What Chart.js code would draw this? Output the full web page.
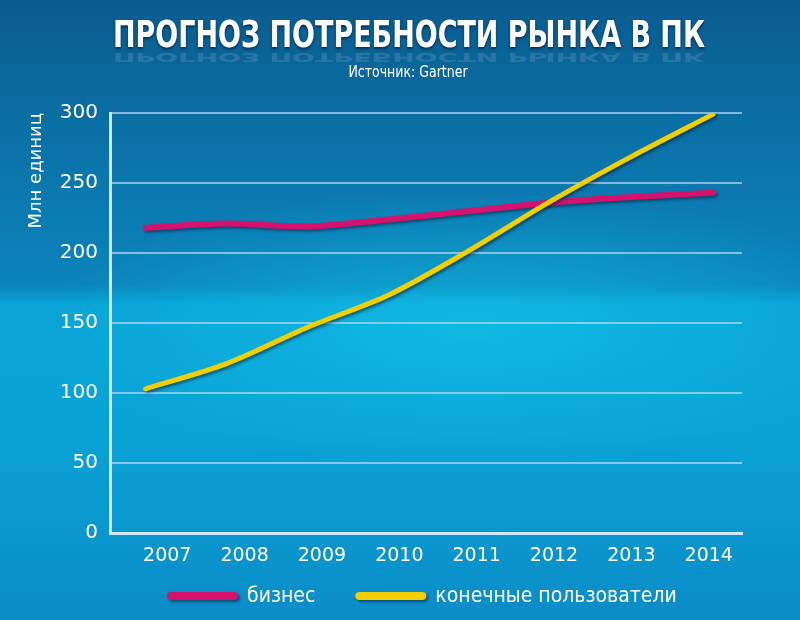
<!DOCTYPE html>
<html>
<head>
<meta charset="utf-8">
<script src="https://cdn.jsdelivr.net/npm/chart.js@4/dist/chart.umd.min.js"></script>
<style>
  html, body { margin: 0; padding: 0; }
  body {
    width: 800px; height: 620px; overflow: hidden;
    background:
      radial-gradient(ellipse 620px 200px at 470px 330px, rgba(20,200,235,0.55), rgba(20,200,235,0) 70%),
      linear-gradient(to bottom, #0a5b8f 0%, #0a74aa 25%, #0b84ba 46%, #09a4d6 49%, #0aa2d4 70%, #0b8cc6 100%);
  }
  #wrap { position: relative; width: 800px; height: 620px; }
</style>
</head>
<body>
<div id="wrap"><canvas id="chart" width="800" height="620"></canvas></div>
<script>
const years = [2007, 2008, 2009, 2010, 2011, 2012, 2013, 2014];
const business = [218, 221, 219, 224, 230, 236, 240, 243];
const consumers = [103, 121, 147, 170, 202, 237, 269, 299];
const seriesNames = ['бизнес', 'конечные пользователи'];
const yTicks = [0, 50, 100, 150, 200, 250, 300];
const titleText = 'ПРОГНОЗ ПОТРЕБНОСТИ РЫНКА В ПК';
const subtitleText = 'Источник: Gartner';

const pink = '#d5126d';
const yellow = '#f3cf00';
const axisCol = '#cfe6fb';
const gridCol = 'rgba(190, 225, 250, 0.65)';
const condensed = "'DejaVu Sans Condensed', 'DejaVu Sans', sans-serif";
const tickFont = "'DejaVu Sans', sans-serif";

// тень под линиями
const lineShadow = {
  id: 'lineShadow',
  beforeDatasetDraw(chart) {
    const ctx = chart.ctx;
    ctx.save();
    ctx.shadowColor = 'rgba(0, 30, 60, 0.55)';
    ctx.shadowBlur = 3;
    ctx.shadowOffsetX = 2;
    ctx.shadowOffsetY = 2;
  },
  afterDatasetDraw(chart) {
    chart.ctx.restore();
  }
};

// заголовок (сжатый по ширине) и легенда под графиком
const headerAndLegend = {
  id: 'headerAndLegend',
  afterDraw(chart) {
    const ctx = chart.ctx;
    ctx.save();
    ctx.font = 'bold 38px ' + condensed;
    ctx.textAlign = 'center';
    ctx.textBaseline = 'middle';
    const tw = ctx.measureText(titleText).width;
    const sx = 592 / tw;
    // отражение заголовка
    ctx.save();
    ctx.translate(409, 56);
    ctx.scale(sx, -0.3);
    ctx.globalAlpha = 0.12;
    ctx.fillStyle = '#ffffff';
    ctx.fillText(titleText, 0, 0);
    ctx.restore();
    // заголовок
    ctx.save();
    ctx.translate(409, 37);
    ctx.scale(sx, 1);
    ctx.shadowColor = 'rgba(0, 20, 50, 0.6)';
    ctx.shadowBlur = 3;
    ctx.shadowOffsetY = 2;
    ctx.fillStyle = '#ffffff';
    ctx.fillText(titleText, 0, 0);
    ctx.restore();
    // подзаголовок
    ctx.font = '15px ' + condensed;
    ctx.save();
    ctx.translate(408, 73);
    ctx.scale(0.93, 1);
    ctx.fillStyle = '#ffffff';
    ctx.fillText(subtitleText, 0, 0);
    ctx.restore();

    // легенда
    ctx.font = '21px ' + condensed;
    ctx.textAlign = 'left';
    let x = 167;
    const y = 597;
    chart.data.datasets.forEach((ds) => {
      ctx.save();
      ctx.shadowColor = 'rgba(0, 30, 60, 0.55)';
      ctx.shadowBlur = 3;
      ctx.shadowOffsetX = 2;
      ctx.shadowOffsetY = 2;
      ctx.strokeStyle = ds.borderColor;
      ctx.lineWidth = 8;
      ctx.lineCap = 'round';
      ctx.beginPath();
      ctx.moveTo(x + 4, y - 1);
      ctx.lineTo(x + 67, y - 1);
      ctx.stroke();
      ctx.restore();
      ctx.fillStyle = '#ffffff';
      ctx.fillText(ds.label, x + 80, y);
      x += 80 + ctx.measureText(ds.label).width + 40;
    });
    ctx.restore();
  }
};

const ctx = document.getElementById('chart').getContext('2d');
const myChart = new Chart(ctx, {
  type: 'line',
  data: {
    datasets: [
      {
        label: seriesNames[0],
        data: years.map((y, i) => ({ x: y, y: business[i] })),
        borderColor: pink,
        backgroundColor: pink,
        borderWidth: 6,
        borderCapStyle: 'round',
        tension: 0.3,
        pointRadius: 0,
        order: 1,
      },
      {
        label: seriesNames[1],
        data: years.map((y, i) => ({ x: y, y: consumers[i] })),
        borderColor: yellow,
        backgroundColor: yellow,
        borderWidth: 5,
        borderCapStyle: 'round',
        tension: 0.3,
        pointRadius: 0,
        order: 0,
      },
    ],
  },
  options: {
    responsive: false,
    animation: false,
    maintainAspectRatio: false,
    layout: { padding: { top: 113, left: 26, right: 58, bottom: 45 } },
    plugins: {
      legend: { display: false },
      tooltip: { enabled: false },
    },
    scales: {
      x: {
        type: 'linear',
        min: 2006.56,
        max: 2014.36,
        afterFit: (scale) => { scale.height = 0; },
        grid: { display: false, drawTicks: false },
        border: { display: true, color: axisCol, width: 3 },
        ticks: { display: false },
      },
      // подписи годов стоят на оригинале не строго под точками
      xLabels: {
        type: 'linear',
        position: 'bottom',
        min: 2006.26,
        max: 2014.43,
        afterBuildTicks: (scale) => { scale.ticks = years.map(v => ({ value: v })); },
        afterFit: (scale) => { scale.height = 42; },
        grid: { display: false, drawTicks: false },
        border: { display: false },
        ticks: {
          color: '#ffffff',
          font: { family: tickFont, size: 19 },
          padding: 12,
          maxRotation: 0,
          callback: (v) => String(v),
        },
      },
      y: {
        min: 0,
        max: 300,
        afterBuildTicks: (scale) => { scale.ticks = yTicks.map(v => ({ value: v })); },
        afterFit: (scale) => { scale.width = 84; },
        grid: { color: gridCol, lineWidth: 2, drawTicks: false },
        border: { display: true, color: axisCol, width: 3 },
        title: {
          display: true,
          text: 'Млн единиц',
          align: 'end',
          color: '#ffffff',
          font: { family: tickFont, size: 18 },
          padding: { top: 0, bottom: 14 },
        },
        ticks: {
          color: '#ffffff',
          font: { family: tickFont, size: 20 },
          padding: 12,
        },
      },
    },
  },
  plugins: [lineShadow, headerAndLegend],
});
</script>
</body>
</html>
